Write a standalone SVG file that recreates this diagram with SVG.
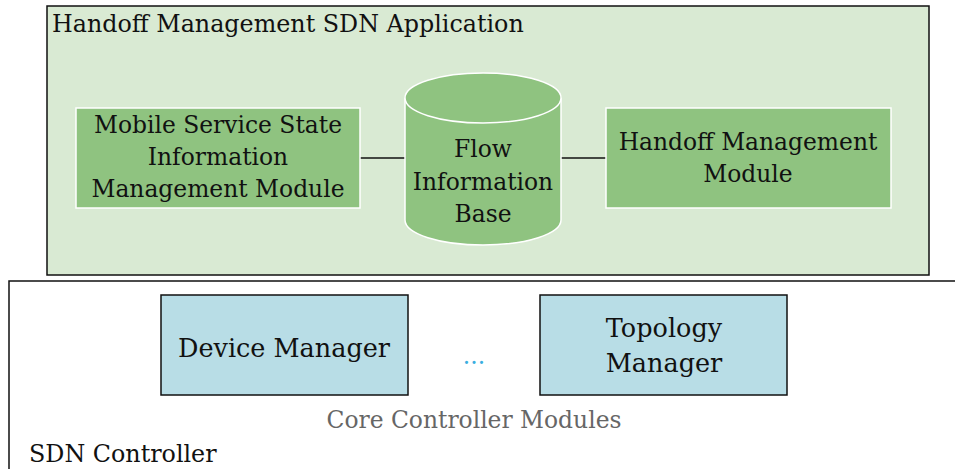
<svg xmlns="http://www.w3.org/2000/svg" width="955" height="469" viewBox="0 0 955 469" font-family="'DejaVu Serif', 'Liberation Serif', serif">
<style>
.t22{font-size:23.4px}
.t26{font-size:25.5px}
.c{text-anchor:middle}
.gbox{fill:#8fc380;stroke:#fff;stroke-width:1.5}
.bbox{fill:#b8dde6;stroke:#111;stroke-width:1.5}
.conn{stroke:#111;stroke-width:1.5;fill:none}
</style>
<rect width="955" height="469" fill="#fff"/>
<g id="sdn-controller">
<path d="M9,469 V281 H955" fill="none" stroke="#111" stroke-width="1.5"/>
<text class="t22" x="29" y="462" fill="#111" style="font-size:23.8px">SDN Controller</text>
</g>
<g id="core-modules-label">
<text class="t22 c" x="474" y="428" fill="#666">Core Controller Modules</text>
</g>
<g id="handoff-app">
<rect x="47" y="6" width="882" height="269" fill="#d9ead3" stroke="#111" stroke-width="1.5"/>
<text class="t22" x="52" y="32" fill="#111" style="font-size:23.8px">Handoff Management SDN Application</text>
</g>
<g id="connectors">
<line class="conn" x1="360" y1="158" x2="405" y2="158"/>
<line class="conn" x1="561" y1="158" x2="606" y2="158"/>
</g>
<g id="mobile-service" fill="#111">
<rect class="gbox" x="76" y="108" width="284" height="100"/>
<text class="t22 c" x="218" y="133">Mobile Service State</text>
<text class="t22 c" x="218" y="165">Information</text>
<text class="t22 c" x="218" y="197">Management Module</text>
</g>
<g id="flow-info-base" fill="#111">
<path d="M405,98 V220 A78,25 0 0 0 561,220 V98" fill="#8fc380" stroke="#fff" stroke-width="1.5"/>
<ellipse cx="483" cy="98" rx="78" ry="25" fill="#8fc380" stroke="#fff" stroke-width="1.5"/>
<text class="t22 c" x="483" y="157">Flow</text>
<text class="t22 c" x="483" y="190">Information</text>
<text class="t22 c" x="483" y="222">Base</text>
</g>
<g id="handoff-module" fill="#111">
<rect class="gbox" x="606" y="108" width="285" height="100"/>
<text class="t22 c" x="748" y="150">Handoff Management</text>
<text class="t22 c" x="748" y="182">Module</text>
</g>
<g id="device-manager" fill="#111">
<rect class="bbox" x="161" y="295" width="247" height="100"/>
<text class="t26 c" x="284" y="357">Device Manager</text>
</g>
<g id="ellipsis">
<text class="t22 c" x="474" y="364" fill="#3aaee0">...</text>
</g>
<g id="topology-manager" fill="#111">
<rect class="bbox" x="540" y="295" width="247" height="100"/>
<text class="t26 c" x="664" y="337">Topology</text>
<text class="t26 c" x="664" y="372">Manager</text>
</g>
</svg>
